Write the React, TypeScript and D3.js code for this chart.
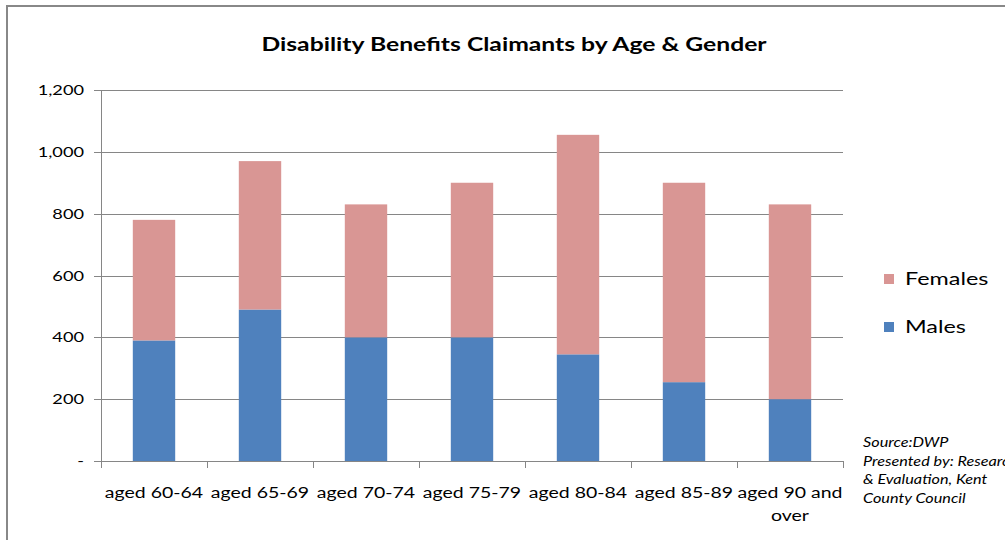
import React from "react";
import * as d3 from "d3";

const categories = ["aged 60-64", "aged 65-69", "aged 70-74", "aged 75-79", "aged 80-84", "aged 85-89", "aged 90 and over"];
const males = [390, 490, 400, 400, 345, 255, 200];
const females = [390, 480, 430, 500, 710, 645, 630];
const yTicks = [0, 200, 400, 600, 800, 1000, 1200];
const seriesNames = ["Males", "Females"];
const seriesColors = ["#4F81BD", "#D99694"];
const sourceLines = ["Source:DWP", "Presented by: Research", "& Evaluation, Kent", "County Council"];

const W = 1005, H = 540;
const plot = { left: 101, right: 843, top: 90, bottom: 461 };
const FONT = "Lato, sans-serif";
const SX = 1.3;

function SText(props: { x: number; y: number; size: number; anchor?: string; bold?: boolean; italic?: boolean; children: any }) {
  return (
    <text
      transform={`translate(${props.x},${props.y}) scale(${SX},1)`}
      textAnchor={props.anchor || "start"}
      fontSize={props.size}
      fontWeight={props.bold ? "bold" : "normal"}
      fontStyle={props.italic ? "italic" : "normal"}
      fill="#000"
    >
      {props.children}
    </text>
  );
}

export default function App() {
  const x = d3.scaleBand<string>().domain(categories).range([plot.left, plot.right]).paddingInner(0.6).paddingOuter(0.3);
  const xb = d3.scaleBand<string>().domain(categories).range([plot.left, plot.right]);
  const y = d3.scaleLinear().domain([0, 1200]).range([plot.bottom, plot.top]);
  const rows = categories.map((c, i) => ({ cat: c, Males: males[i], Females: females[i] }));
  const stacked = d3.stack<any>().keys(seriesNames)(rows);
  const fmt = d3.format(",");

  return (
    <svg width={W} height={H} style={{ position: "absolute", left: 0, top: 0, background: "#fff" }} fontFamily={FONT}>
      <rect x={7} y={6} width={W + 10} height={H + 10} fill="#fff" stroke="#888" strokeWidth={2} />
      <SText x={514} y={51} size={19} anchor="middle" bold>
        Disability Benefits Claimants by Age &amp; Gender
      </SText>
      {yTicks.map((t) => (
        <g key={t}>
          <line x1={plot.left - 7} x2={plot.right} y1={Math.round(y(t)) + 0.5} y2={Math.round(y(t)) + 0.5} stroke="#868686" strokeWidth={1} />
          <SText x={84} y={y(t) + 5} size={14} anchor="end">
            {t === 0 ? "-" : fmt(t)}
          </SText>
        </g>
      ))}
      <line x1={plot.left + 0.5} x2={plot.left + 0.5} y1={plot.top} y2={plot.bottom + 7} stroke="#868686" />
      {categories.map((c) => (
        <line key={c} x1={Math.round(xb(c)! + xb.bandwidth()) + 0.5} x2={Math.round(xb(c)! + xb.bandwidth()) + 0.5} y1={plot.bottom} y2={plot.bottom + 7} stroke="#868686" />
      ))}
      {stacked.map((s, si) => (
        <g key={s.key} fill={seriesColors[si]}>
          {s.map((d, i) => (
            <rect key={i} x={x(categories[i])} width={x.bandwidth()} y={y(d[1])} height={y(d[0]) - y(d[1])} />
          ))}
        </g>
      ))}
      {categories.map((c) => {
        const cx = xb(c)! + xb.bandwidth() / 2;
        const parts = c === "aged 90 and over" ? ["aged 90 and", "over"] : [c];
        return (
          <g key={c}>
            {parts.map((p, k) => (
              <SText key={k} x={cx} y={498 + k * 23} size={15} anchor="middle">{p}</SText>
            ))}
          </g>
        );
      })}
      {["Females", "Males"].map((n, k) => (
        <g key={n}>
          <rect x={884} y={k === 0 ? 274 : 322} width={10} height={10} fill={seriesColors[seriesNames.indexOf(n)]} />
          <SText x={905} y={k === 0 ? 285 : 333} size={18}>{n}</SText>
        </g>
      ))}
      {sourceLines.map((l, k) => (
        <SText key={k} x={863} y={447 + k * 18.7} size={12.5} italic>{l}</SText>
      ))}
    </svg>
  );
}
